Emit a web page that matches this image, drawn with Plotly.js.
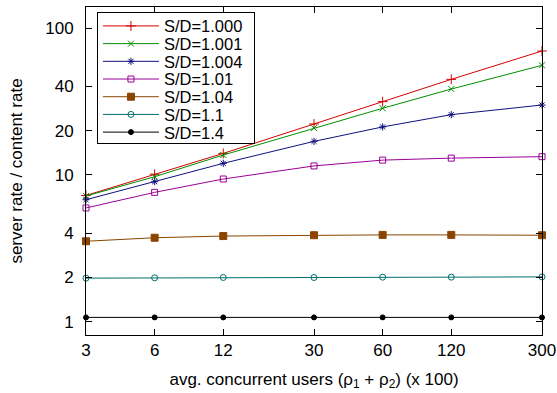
<!DOCTYPE html>
<html>
<head>
<meta charset="utf-8">
<script src="https://cdn.plot.ly/plotly-3.0.1.min.js"></script>
<style>html,body{margin:0;padding:0;background:#fff;}#chart{width:557px;height:393px;}</style>
</head>
<body>
<div id="chart"></div>
<script>
const users = [3, 6, 12, 30, 60, 120, 300];
const xTickLabels = ["3", "6", "12", "30", "60", "120", "300"];
const yTickVals = [1, 2, 4, 10, 20, 40, 100];
const yTickLabels = ["1", "2", "4", "10", "20", "40", "100"];
const seriesNames = ["S/D=1.000", "S/D=1.001", "S/D=1.004", "S/D=1.01", "S/D=1.04", "S/D=1.1", "S/D=1.4"];
const sd1000 = [7.24, 10.1, 14.0, 22.2, 31.5, 44.7, 69.7];
const sd1001 = [7.18, 9.71, 13.65, 20.8, 28.4, 38.4, 55.7];
const sd1004 = [6.77, 8.98, 11.98, 16.9, 21.2, 25.7, 29.9];
const sd101 = [5.95, 7.6, 9.37, 11.5, 12.6, 13.0, 13.3];
const sd104 = [3.53, 3.73, 3.83, 3.88, 3.9, 3.9, 3.88];
const sd11 = [1.98, 1.99, 2.0, 2.0, 2.01, 2.01, 2.02];
const sd14 = [1.07, 1.07, 1.07, 1.07, 1.07, 1.07, 1.07];

const seriesValues = [sd1000, sd1001, sd1004, sd101, sd104, sd11, sd14];
const styles = [
  {color: "#d40000", symbol: "cross-thin-open", size: 7},
  {color: "#008f00", symbol: "x-thin-open", size: 6},
  {color: "#10107f", symbol: "asterisk-open", size: 6},
  {color: "#990099", symbol: "square-open", size: 6},
  {color: "#8b4500", symbol: "square", size: 7},
  {color: "#006e6e", symbol: "circle-open", size: 6},
  {color: "#000000", symbol: "circle", size: 5}
];

const traces = seriesValues.map((vals, i) => ({
  x: users,
  y: vals,
  name: seriesNames[i],
  type: "scatter",
  mode: "lines+markers",
  cliponaxis: false,
  line: {color: styles[i].color, width: 1},
  marker: {symbol: styles[i].symbol, size: styles[i].size, color: styles[i].color,
           line: {color: styles[i].color, width: 1}}
}));

const font = {family: "Liberation Sans, Arial, sans-serif", size: 17, color: "#000"};

const layout = {
  width: 557, height: 393,
  margin: {l: 86, r: 15, t: 7, b: 58},
  paper_bgcolor: "#fff", plot_bgcolor: "#fff",
  font: font,
  showlegend: true,
  legend: {
    x: 0.024, y: 0.985, xanchor: "left", yanchor: "top",
    bgcolor: "#fff", bordercolor: "#000", borderwidth: 1,
    itemwidth: 56,
    font: {family: font.family, size: 16.5, color: "#000"}
  },
  xaxis: {
    type: "log",
    range: [Math.log10(3) - 1e-5, Math.log10(300) + 1e-5],
    tickmode: "array", tickvals: users, ticktext: xTickLabels,
    ticks: "inside", ticklen: 6, tickcolor: "#000",
    showline: true, linecolor: "#000", linewidth: 1, mirror: "allticks",
    showgrid: false, zeroline: false,
    tickfont: font,
    title: {text: "avg. concurrent users (ρ<sub>1</sub> + ρ<sub>2</sub>) (x 100)", font: font, standoff: 13}
  },
  yaxis: {
    type: "log",
    range: [-0.0906, 2.143],
    tickmode: "array", tickvals: yTickVals, ticktext: yTickLabels,
    ticks: "inside", ticklen: 6, tickcolor: "#000",
    showline: true, linecolor: "#000", linewidth: 1, mirror: "allticks",
    showgrid: false, zeroline: false,
    tickfont: font,
    ticklabelstandoff: 8,
    title: {text: "server rate / content rate", font: font, standoff: 18}
  }
};

Plotly.newPlot("chart", traces, layout, {displayModeBar: false, staticPlot: true}).then(gd => {
  // tighten legend row spacing to match the reference
  try {
    const rowGap = 17.7, firstRow = 14;
    const items = gd.querySelectorAll(".legend .traces");
    items.forEach((g, i) => {
      const m = /translate\(([^,]+),\s*([^)]+)\)/.exec(g.getAttribute("transform") || "");
      const x = m ? parseFloat(m[1]) : 1;
      g.setAttribute("transform", "translate(" + x + "," + (firstRow + i * rowGap) + ")");
    });
    const bg = gd.querySelector(".legend rect.bg");
    if (bg) {
      bg.setAttribute("height", 131);
      bg.setAttribute("width", 157);
    }
  } catch (e) {}
});
</script>
</body>
</html>
